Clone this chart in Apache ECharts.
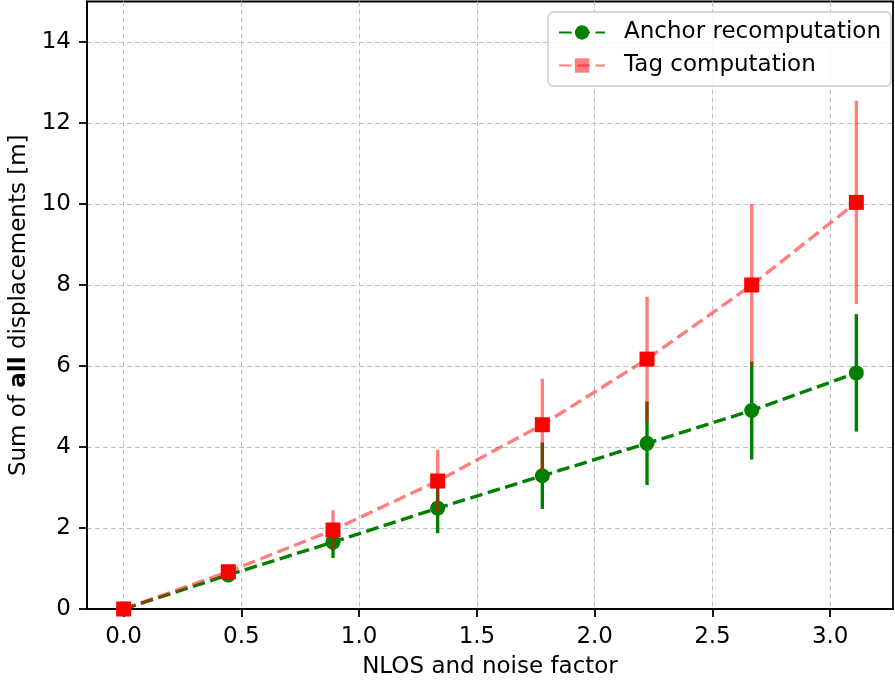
<!DOCTYPE html>
<html><head><meta charset="utf-8">
<script src="https://cdn.jsdelivr.net/npm/echarts@6/dist/echarts.min.js"></script>
<style>html,body{margin:0;padding:0;background:#fff}#c{width:895px;height:681px}</style>
</head><body><div id="c"></div>
<script>
const xValues = [0, 0.4444, 0.8889, 1.3333, 1.7778, 2.2222, 2.6667, 3.1111];
const anchorMean = [0, 0.84, 1.65, 2.49, 3.29, 4.09, 4.90, 5.83];
const anchorErr = [0, 0.08, 0.39, 0.62, 0.82, 1.03, 1.21, 1.45];
const tagMean = [0, 0.92, 1.95, 3.16, 4.55, 6.17, 8.00, 10.04];
const tagErr = [0, 0.13, 0.49, 0.77, 1.14, 1.54, 2.00, 2.51];
const xTicks = [0, 0.5, 1.0, 1.5, 2.0, 2.5, 3.0];
const yTicks = [0, 2, 4, 6, 8, 10, 12, 14];
const seriesNames = ['Anchor recomputation', 'Tag computation'];

const FONT = 'DejaVu Sans';
const FS = 23;
const LW = 3.4;
const DASH = [12.7, 5.5];

function errRender(color) {
  return function (params, api) {
    const x = api.value(0), lo = api.value(1), hi = api.value(2);
    const p1 = api.coord([x, lo]), p2 = api.coord([x, hi]);
    return { type: 'line', shape: { x1: p1[0], y1: p1[1], x2: p2[0], y2: p2[1] },
      style: { stroke: color, lineWidth: LW } };
  };
}

const anchorPts = xValues.map((x, i) => [x, anchorMean[i]]);
const tagPts = xValues.map((x, i) => [x, tagMean[i]]);
const anchorBars = xValues.map((x, i) => [x, anchorMean[i] - anchorErr[i], anchorMean[i] + anchorErr[i]]);
const tagBars = xValues.map((x, i) => [x, tagMean[i] - tagErr[i], tagMean[i] + tagErr[i]]);

const chart = echarts.init(document.getElementById('c'));
const gridSplit = { show: true, lineStyle: { color: '#c0c0c0', width: 1, type: [5, 3] } };
chart.setOption({
  animation: false,
  backgroundColor: '#fff',
  textStyle: { fontFamily: FONT },
  grid: { left: 87, right: 2, top: 1.5, bottom: 72, containLabel: false, outerBoundsMode: 'none',
    show: true, borderColor: '#000', borderWidth: 1.8, backgroundColor: 'transparent' },
  legend: {
    orient: 'vertical', right: 4, top: 12,
    backgroundColor: 'rgba(255,255,255,0.85)', borderColor: '#cccccc', borderWidth: 1.5, borderRadius: 5,
    padding: [9, 10, 9, 10], itemWidth: 46, itemHeight: 18, itemGap: 10,
    textStyle: { fontFamily: FONT, fontSize: FS, color: '#000', padding: [0, 0, 0, 14] },
    data: [
      { name: seriesNames[0] },
      { name: seriesNames[1], itemStyle: { color: 'rgba(255,0,0,0.5)' } }
    ]
  },
  xAxis: {
    type: 'value', min: -0.15556, max: 3.26667,
    name: 'NLOS and noise factor', nameLocation: 'middle', nameGap: 47,
    nameTextStyle: { fontFamily: FONT, fontSize: FS, color: '#000' },
    axisLine: { show: true, onZero: false, lineStyle: { color: '#000', width: 1.8 } },
    axisTick: { show: true, length: 8, lineStyle: { color: '#000', width: 1.8 }, customValues: xTicks },
    axisLabel: { fontFamily: FONT, fontSize: FS, color: '#000', margin: 17, customValues: xTicks,
      formatter: v => v.toFixed(1) },
    splitLine: gridSplit
  },
  yAxis: {
    type: 'value', min: 0, max: 15,
    name: '{n|Sum of }{b|all}{n| displacements [m]}', nameLocation: 'middle', nameGap: 52,
    nameTextStyle: { fontFamily: FONT, fontSize: FS, color: '#000',
      rich: { n: { fontFamily: FONT, fontSize: FS, color: '#000' }, b: { fontFamily: FONT, fontSize: FS, color: '#000', fontWeight: 'bold' } } },
    axisLine: { show: true, onZero: false, lineStyle: { color: '#000', width: 1.8 } },
    axisTick: { show: true, length: 8, lineStyle: { color: '#000', width: 1.8 }, customValues: yTicks },
    axisLabel: { fontFamily: FONT, fontSize: FS, color: '#000', margin: 16, customValues: yTicks },
    splitLine: gridSplit
  },
  series: [
    { type: 'custom', name: 'anchorErr', data: anchorBars, encode: { x: 0, y: [1, 2] },
      renderItem: errRender('green'), z: 2, silent: true },
    { type: 'line', name: seriesNames[0], data: anchorPts, symbol: 'circle', symbolSize: 15,
      lineStyle: { color: 'green', width: LW, type: DASH }, itemStyle: { color: 'green' }, z: 3 },
    { type: 'custom', name: 'tagErr', data: tagBars, encode: { x: 0, y: [1, 2] },
      renderItem: errRender('rgba(255,0,0,0.5)'), z: 4, silent: true },
    { type: 'line', name: seriesNames[1], data: tagPts, symbol: 'rect', symbolSize: 15,
      lineStyle: { color: 'rgba(255,0,0,0.5)', width: LW, type: DASH }, itemStyle: { color: 'red' }, z: 5 }
  ]
});
</script>
</body></html>
